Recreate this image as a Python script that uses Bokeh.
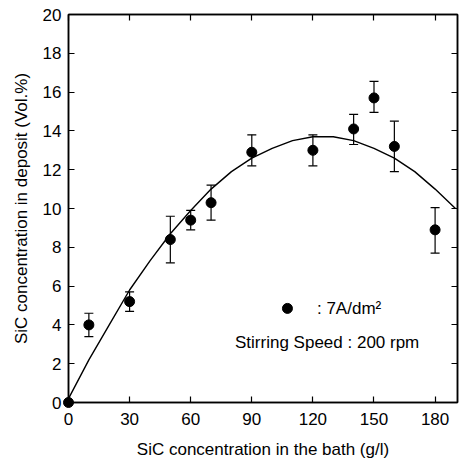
from bokeh.plotting import figure
from bokeh.models import (ColumnDataSource, Whisker, TeeHead, LinearAxis, FixedTicker,
                          Range1d)
from bokeh.core.properties import value
from bokeh.embed import file_html
from bokeh.resources import INLINE

# ---- data ----
conc_bath = [0, 10, 30, 50, 60, 70, 90, 120, 140, 150, 160, 180]
conc_deposit = [0.0, 4.0, 5.2, 8.4, 9.4, 10.3, 12.9, 13.0, 14.1, 15.7, 13.2, 8.9]
err_upper = [0.0, 4.6, 5.7, 9.6, 9.9, 11.2, 13.8, 13.8, 14.85, 16.55, 14.5, 10.05]
err_lower = [0.0, 3.4, 4.7, 7.2, 8.9, 9.4, 12.2, 12.2, 13.3, 14.95, 11.9, 7.7]

fit_x = [0, 10, 20, 30, 40, 50, 60, 70, 80, 90, 100, 110, 120, 130, 140, 150, 160, 170, 180, 190]
fit_y = [0.2, 2.2, 4.0, 5.8, 7.3, 8.7, 9.9, 11.0, 11.9, 12.6, 13.1, 13.5, 13.7, 13.7, 13.5,
         13.1, 12.6, 11.9, 11.0, 10.0]

x_ticks = [0, 30, 60, 90, 120, 150, 180]
y_ticks = [0, 2, 4, 6, 8, 10, 12, 14, 16, 18, 20]

x_label = "SiC concentration in the bath (g/l)"
y_label = "SiC concentration in deposit (Vol.%)"
legend_line1 = ":  7A/dm\u00b2"
legend_line2 = "Stirring Speed : 200 rpm"

FONT = "Liberation Sans"
FS = "17px"

p = figure(width=459, height=468, output_backend="svg", toolbar_location=None,
           x_range=Range1d(0, 191), y_range=Range1d(0, 20),
           min_border_left=68, min_border_right=2, min_border_top=14, min_border_bottom=66)
p.background_fill_color = "white"
p.border_fill_color = "white"
p.grid.visible = False
p.outline_line_color = "black"
p.outline_line_width = 1.5

for ax in (p.xaxis[0], p.yaxis[0]):
    ax.major_tick_in = 6
    ax.major_tick_out = 0
    ax.minor_tick_line_color = None
    ax.axis_line_width = 1.5
    ax.major_tick_line_width = 1.2
    ax.major_label_text_font = FONT
    ax.major_label_text_font_size = FS
    ax.major_label_text_color = "black"
    ax.axis_label_text_font = FONT
    ax.axis_label_text_font_style = "normal"
    ax.axis_label_text_color = "black"
    ax.axis_label_text_font_size = FS

p.xaxis.ticker = FixedTicker(ticks=x_ticks)
p.yaxis.ticker = FixedTicker(ticks=y_ticks)
p.xaxis.axis_label = x_label
p.yaxis.axis_label = y_label
p.xaxis.major_label_standoff = 10
p.yaxis.major_label_standoff = 7
p.xaxis.axis_label_standoff = 12
p.yaxis.axis_label_standoff = 9

top = LinearAxis(ticker=FixedTicker(ticks=x_ticks), major_tick_in=6, major_tick_out=0,
                 minor_tick_line_color=None, major_label_text_font_size="1px",
                 major_label_overrides={t: "" for t in x_ticks},
                 major_label_standoff=0, axis_line_width=1.5, major_tick_line_width=1.2)
right = LinearAxis(ticker=FixedTicker(ticks=y_ticks), major_tick_in=6, major_tick_out=0,
                   minor_tick_line_color=None, major_label_text_font_size="1px",
                   major_label_overrides={t: "" for t in y_ticks},
                   major_label_standoff=0, axis_line_width=1.5, major_tick_line_width=1.2)
p.add_layout(top, "above")
p.add_layout(right, "right")

# fitted curve
p.line(fit_x, fit_y, line_color="black", line_width=1.4)

# error bars
src = ColumnDataSource(dict(x=conc_bath, y=conc_deposit, upper=err_upper, lower=err_lower))
w = Whisker(source=src, base="x", upper="upper", lower="lower", line_color="black",
            line_width=1.2,
            upper_head=TeeHead(size=9, line_color="black", line_width=1.2),
            lower_head=TeeHead(size=9, line_color="black", line_width=1.2))
p.add_layout(w)

# data points (drawn at overlay level so the point at the origin shows in full)
p.scatter("x", "y", source=src, size=10, fill_color="black", line_color="black",
          level="overlay")

# legend annotation
p.scatter([107.5], [4.85], size=10, fill_color="black", line_color="black")
p.text([122], [4.85], text=[legend_line1], text_font=value(FONT), text_font_size=FS,
       text_baseline="middle", text_align="left", text_color="black")
p.text([127], [3.1], text=[legend_line2], text_font=value(FONT), text_font_size=FS,
       text_baseline="middle", text_align="center", text_color="black")

open("out.html", "w").write(file_html(p, INLINE))
